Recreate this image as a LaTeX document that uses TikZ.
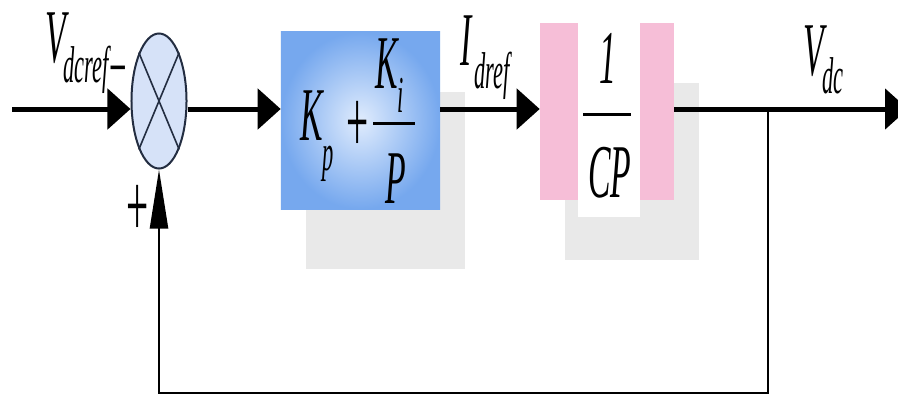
\documentclass[tikz,border=0pt]{standalone}
\usepackage{fontspec}
\setmainfont{Liberation Serif}
\newfontfamily\timesit{Liberation Serif Italic}
\newfontfamily\timesrm{Liberation Serif}
\usepackage{graphicx}
\usetikzlibrary{arrows.meta,calc,shapes.geometric,shadows}
\definecolor{sumfill}{RGB}{214,226,248}
\definecolor{sumline}{RGB}{35,45,65}
\definecolor{piouter}{RGB}{118,168,238}
\definecolor{piinner}{RGB}{224,236,253}
\definecolor{pinkfill}{RGB}{246,190,215}
\definecolor{shadegray}{RGB}{233,233,233}
\newcommand{\bigit}[1]{\scalebox{1}[2.25]{\fontsize{24}{24}\timesit #1}}
\newcommand{\subit}[2][0.5cm]{\raisebox{-#1}{\scalebox{1}[2.3]{\fontsize{16}{16}\timesit #2}}}
\newcommand{\sgn}[2][28]{\scalebox{1}[2.3]{\fontsize{#1}{#1}\timesrm #2}}

\begin{document}
\begin{tikzpicture}[x=0.025cm,y=-0.025cm,
  sig/.style={line width=0.125cm},
  fbk/.style={line width=0.06cm},
  tip/.style={-{Triangle[length=0.575cm,width=1cm]}},
  txt/.style={inner sep=0,anchor=base west},
  sign/.style={inner sep=0,anchor=center},
  boxshadow/.style={drop shadow={shadow xshift=0.625cm,shadow yshift=-1.5cm,fill=shadegray,opacity=1}}]
\clip (0,0) rectangle (898,396);
\fill[white] (0,0) rectangle (898,396);
\coordinate (in) at (12,109);
\coordinate (br) at (768,109);
\coordinate (out) at (908,109);
\coordinate (fb) at (768,393);
\node[boxshadow,rectangle,shading=radial,inner color=piinner,outer color=piouter,
  minimum width=3.975cm,minimum height=4.425cm] (pi) at (360.5,120.5) {};
\node[boxshadow,rectangle,fill=pinkfill,minimum width=3.35cm,minimum height=4.425cm] (cp) at (607,111.5) {};
\fill[white] ($(cp.north west)+(38,0)$) rectangle ($(cp.south east)+(-34,17)$);
\node[ellipse,draw=sumline,fill=sumfill,line width=0.05cm,inner sep=0,
  minimum width=1.375cm,minimum height=3.375cm] (sum) at (159,101) {};
\draw[sumline,line width=0.04cm] (sum.north west) -- (sum.south east) (sum.north east) -- (sum.south west);
\draw[sig,tip] (in) -- (in -| sum.west);
\draw[sig,tip] (sum.east |- in) -- (pi.west |- in);
\draw[sig,tip] (pi.east |- in) -- (cp.west |- in);
\draw[sig,tip] (cp.east |- in) -- (out);
\draw[fbk,-{Triangle[length=1.475cm,width=0.45cm]}] (br) -- (fb) -| (sum.south);
\node[txt] (vref) at (45,62) {\bigit{V}\kern-2pt\subit{dcref}};
\node[sign] (minus) at (118,79) {\sgn[22]{−}};
\node[sign] (plus) at (138,211) {\sgn{+}};
\node[txt] (kp) at (300,140) {\bigit{K}\subit[0.75cm]{p}};
\node[sign] (piplus) at (358,127) {\sgn{+}};
\node[txt] (ki) at (375,88) {\bigit{K}\subit[0.6cm]{i}};
\draw[line width=0.075cm] (373,123) -- (415,123);
\node[txt] (pden) at (385,203) {\bigit{P}};
\node[txt] (iref) at (460,65) {\bigit{I}\kern2pt\subit[0.575cm]{dref}};
\node[txt] (one) at (599,83) {\bigit{1}};
\draw[line width=0.075cm] (583,114) -- (631,114);
\node[txt] (cpden) at (588,197) {\bigit{CP}};
\node[txt] (vdc) at (803,75) {\bigit{V}\kern-1pt\subit[0.45cm]{dc}};
\end{tikzpicture}
\end{document}
